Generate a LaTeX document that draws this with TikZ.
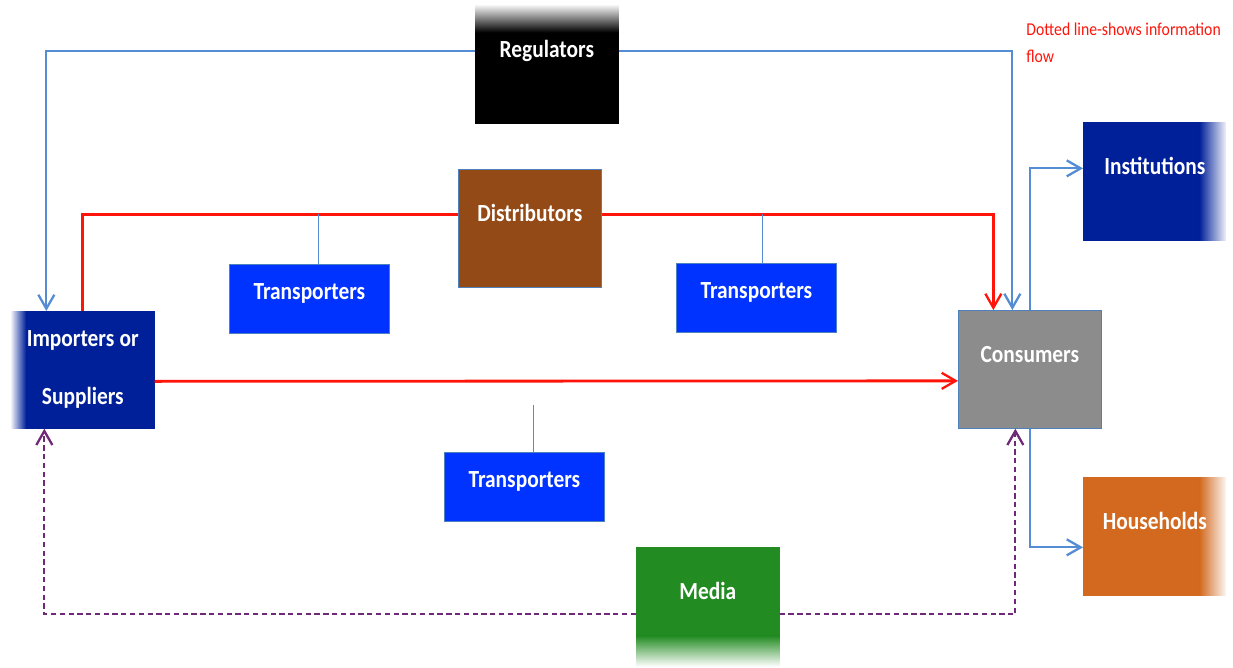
\documentclass[tikz,border=0pt]{standalone}
\usepackage{fontspec}
\setmainfont{Carlito}
\newfontfamily\boxfont[FakeStretch=0.87]{Carlito}
\usetikzlibrary{arrows.meta}
\usetikzlibrary{backgrounds}
\tikzset{>={Straight Barb[length=2.8mm,width=3.2mm,line width=1.3pt]}}
\definecolor{boxline}{RGB}{79,129,189}
\definecolor{flowblue}{RGB}{84,141,212}
\definecolor{flowred}{RGB}{255,20,10}
\definecolor{infopurple}{RGB}{112,40,120}
\definecolor{regblack}{RGB}{0,0,0}
\definecolor{distbrown}{RGB}{148,74,22}
\definecolor{transblue}{RGB}{0,51,255}
\definecolor{deepblue}{RGB}{0,32,153}
\definecolor{congray}{RGB}{140,140,140}
\definecolor{hhorange}{RGB}{210,105,30}
\definecolor{mediagreen}{RGB}{34,139,34}
\newcommand{\tightspace}{\spaceskip=0.22em\relax}
\tikzset{
    bigbox/.style={draw=boxline, text=white, inner sep=0, anchor=north west,
        text width=2.86cm, align=center, text height=1.05cm, text depth=1.31cm,
        font=\boxfont\bfseries\fontsize{14}{17}\selectfont},
    fadebox/.style={bigbox, draw=none},
    transbox/.style={draw=boxline, fill=transblue, text=white, inner sep=0, anchor=north west,
        text width=3.2cm, align=center, text height=0.7cm, text depth=0.68cm,
        font=\boxfont\bfseries\fontsize{14}{17}\selectfont},
    blueflow/.style={flowblue, line width=1.1pt},
    redflow/.style={flowred, line width=1.6pt},
    infoflow/.style={infopurple, line width=1.1pt, dashed, dash pattern=on 3pt off 2pt}
}
\newcommand{\boxfill}[2]{\fill[#2] (#1.north west) rectangle (#1.south east);}

\begin{document}
\begin{tikzpicture}[x=0.02cm, y=-0.02cm]
    \useasboundingbox (0, 0) rectangle (1233, 667);
    \node[fadebox] (reg) at (475, 5) {Regulators};
    \node[bigbox] (dist) at (458, 169) {Distributors};
    \node[transbox] (tr1) at (229, 264) {Transporters};
    \node[transbox] (tr2) at (676, 263) {Transporters};
    \node[transbox] (tr3) at (444, 452) {Transporters};
    \node[fadebox, text height=0.7cm, text depth=1.64cm] (imp) at (11, 311)
        {\tightspace Importers or\\[0.56cm]Suppliers};
    \node[bigbox] (con) at (958, 310) {Consumers};
    \node[fadebox] (inst) at (1083, 122) {Institutions};
    \node[fadebox] (hh) at (1083, 477) {Households};
    \node[fadebox] (media) at (636, 547) {Media};
    \node[anchor=west, align=left, text=flowred, inner sep=0,
        font=\boxfont\fontsize{10.3}{15.5}\selectfont] (note) at (1026, 43)
        {Dotted line-shows information\\flow};
    \begin{scope}[on background layer]
        \boxfill{reg}{regblack}
        \boxfill{dist}{distbrown}
        \boxfill{imp}{deepblue}
        \boxfill{con}{congray}
        \boxfill{inst}{deepblue}
        \boxfill{hh}{hhorange}
        \boxfill{media}{mediagreen}
        % faded edges
        \shade[top color=white, bottom color=regblack] ([yshift=0.02cm]reg.north west) rectangle ([yshift=-0.55cm]reg.north east);
        \shade[left color=white, right color=deepblue] ([xshift=-0.02cm]imp.north west) rectangle ([xshift=0.3cm]imp.south west);
        \shade[left color=deepblue, right color=white] ([xshift=-0.55cm]inst.north east) rectangle ([xshift=0.02cm]inst.south east);
        \shade[left color=hhorange, right color=white] ([xshift=-0.55cm]hh.north east) rectangle ([xshift=0.02cm]hh.south east);
        \shade[top color=mediagreen, bottom color=white] ([yshift=0.6cm]media.south west) rectangle ([yshift=-0.02cm]media.south east);
    \end{scope}
    \fill[white] (1226, 0) rectangle (1233, 667);
    % regulators
    \draw[blueflow, ->] ([yshift=0.26cm]reg.west) -| ([xshift=-0.73cm]imp.north);
    \draw[blueflow, ->] ([yshift=0.26cm]reg.east) -| ([xshift=-0.35cm]con.north);
    % goods
    \coordinate (rl) at ([yshift=0.28cm]dist.west);
    \draw[redflow] (imp.north) |- (rl);
    \draw[redflow, ->] ([yshift=0.28cm]dist.east) -| ([xshift=-0.73cm]con.north);
    \draw[redflow, ->] ([yshift=-0.23cm]imp.east) -- ([yshift=-0.23cm]con.west);
    \draw[blueflow, line width=0.8pt] ([xshift=0.18cm]tr1.north) -- ([xshift=0.18cm]tr1.north |- rl);
    \draw[blueflow, line width=0.8pt] ([xshift=0.12cm]tr2.north) -- ([xshift=0.12cm]tr2.north |- rl);
    \draw[blueflow, line width=0.8pt] ([xshift=0.18cm]tr3.north) -- ++(0, 0.94cm);
    \draw[blueflow, ->] (con.north) |- ([yshift=0.26cm]inst.west);
    \draw[blueflow, ->] (con.south) |- ([yshift=-0.22cm]hh.west);
    % information
    \draw[infoflow, ->] ([yshift=-0.16cm]media.west) -| ([xshift=-0.77cm]imp.south);
    \draw[infoflow, ->] ([yshift=-0.16cm]media.east) -| ([xshift=-0.29cm]con.south);
\end{tikzpicture}
\end{document}
